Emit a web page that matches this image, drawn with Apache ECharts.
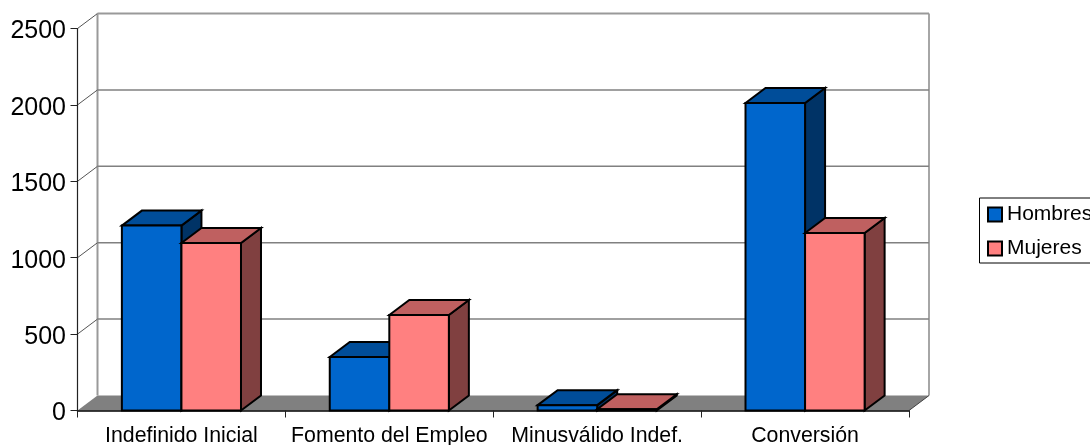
<!DOCTYPE html>
<html><head><meta charset="utf-8">
<style>html,body{margin:0;padding:0;background:#fff;overflow:hidden}#c{width:1090px;height:445px}</style>
<script src="https://cdn.jsdelivr.net/npm/echarts@6/dist/echarts.min.js"></script>
</head><body><div id="c"></div>
<script>
const categories = ['Indefinido Inicial','Fomento del Empleo','Minusválido Indef.','Conversión'];
const hombres = [1210, 350, 35, 2012];
const mujeres = [1096, 625, 8, 1162];
const yTicks = [0, 500, 1000, 1500, 2000, 2500];

const DX = 20, DY = -15, BAR = 0.2865;
const FONT = '"Liberation Sans", Arial, sans-serif';
const chart = echarts.init(document.getElementById('c'), null, {renderer:'canvas'});

function poly(points, fill, stroke, lw){
  return {type:'polygon', shape:{points}, style:{fill, stroke, lineWidth:lw, lineJoin:'miter'}};
}
function line(a, b, color, lw){
  return {type:'line', shape:{x1:a[0],y1:a[1],x2:b[0],y2:b[1]}, style:{stroke:color, lineWidth:lw}};
}
function wallItem(params, api){
  const v = api.value(0);
  const cs = params.coordSys;
  const y = api.coord([0, v])[1];
  const x0 = cs.x, x1 = cs.x + cs.width;
  const kids = [];
  if (v === 0) {
    kids.push(poly([[x0,y],[x0+DX,y+DY],[x1+DX,y+DY],[x1,y]], '#808080', null, 0));
    kids.push(line([x0+DX,y+DY],[x0+DX,cs.y+DY],'#999999',2));
    kids.push(line([x1+DX,y+DY],[x1+DX,cs.y+DY],'#a6a6a6',2));
    kids.push(line([x1,y],[x1+DX,y+DY],'#404040',1));
  } else {
    kids.push(line([x0,y],[x0+DX,y+DY],'#555555',1));
    kids.push(line([x0+DX,y+DY],[x1+DX,y+DY], v === 2500 ? '#999999' : '#808080', v === 2500 ? 2 : 1.5));
  }
  return {type:'group', children:kids};
}
function barItem(offset, front, top, side){
  return function(params, api){
    const idx = api.value(0), val = api.value(1);
    const base = api.coord([idx, 0]);
    const head = api.coord([idx, val]);
    const w = api.size([1,0])[0] * BAR;
    const l = base[0] + offset * w, r = l + w, t = head[1], b = base[1];
    return {type:'group', children:[
      poly([[r,b],[r+DX,b+DY],[r+DX,t+DY],[r,t]], side, '#000', 2),
      poly([[l,t],[l+DX,t+DY],[r+DX,t+DY],[r,t]], top, '#000', 2),
      poly([[l,t],[r,t],[r,b],[l,b]], front, '#000', 2)
    ]};
  };
}
chart.setOption({
  animation:false,
  backgroundColor:'#fff',
  grid:{left:77.5, right:181, top:28.5, bottom:34.5, containLabel:false, outerBoundsMode:'none'},
  legend:{
    left:979.5, top:198, orient:'vertical', padding:[6,40,4,7.5],
    itemWidth:14, itemHeight:14, itemGap:13, icon:'rect',
    backgroundColor:'#fff', borderColor:'#000', borderWidth:1,
    data:['Hombres','Mujeres'],
    textStyle:{fontFamily:FONT, fontSize:21, color:'#000'}
  },
  xAxis:{type:'category', data:categories, boundaryGap:true, z:5,
    axisLine:{show:true, lineStyle:{color:'#000', width:1.5}},
    axisTick:{show:true, length:7, alignWithLabel:false, lineStyle:{color:'#222', width:1}},
    axisLabel:{interval:0, margin:15.5, color:'#000', fontFamily:FONT, fontSize:21.3}
  },
  yAxis:{type:'value', min:0, max:2500, interval:500, z:5,
    axisLine:{show:true, lineStyle:{color:'#222', width:1.2}},
    axisTick:{show:true, length:7, lineStyle:{color:'#222', width:1}},
    axisLabel:{margin:11.5, color:'#000', fontFamily:FONT, fontSize:25, verticalAlign:'top', lineHeight:6,
      formatter:function(v){return String(v);}},
    splitLine:{show:false}
  },
  series:[
    {type:'custom', name:'walls', silent:true, clip:false, z:1, data:yTicks.map(v=>[v]),
     encode:{y:0}, renderItem:wallItem},
    {type:'custom', name:'Hombres', clip:false, z:2,
     itemStyle:{color:'#0066cc', borderColor:'#000', borderWidth:2},
     data:hombres.map((v,i)=>[i,v]), encode:{x:0,y:1},
     renderItem:barItem(-1,'#0066cc','#004d99','#003366')},
    {type:'custom', name:'Mujeres', clip:false, z:2,
     itemStyle:{color:'#ff8080', borderColor:'#000', borderWidth:2},
     data:mujeres.map((v,i)=>[i,v]), encode:{x:0,y:1},
     renderItem:barItem(0,'#ff8080','#bf6060','#804040')}
  ]
});
</script></body></html>
